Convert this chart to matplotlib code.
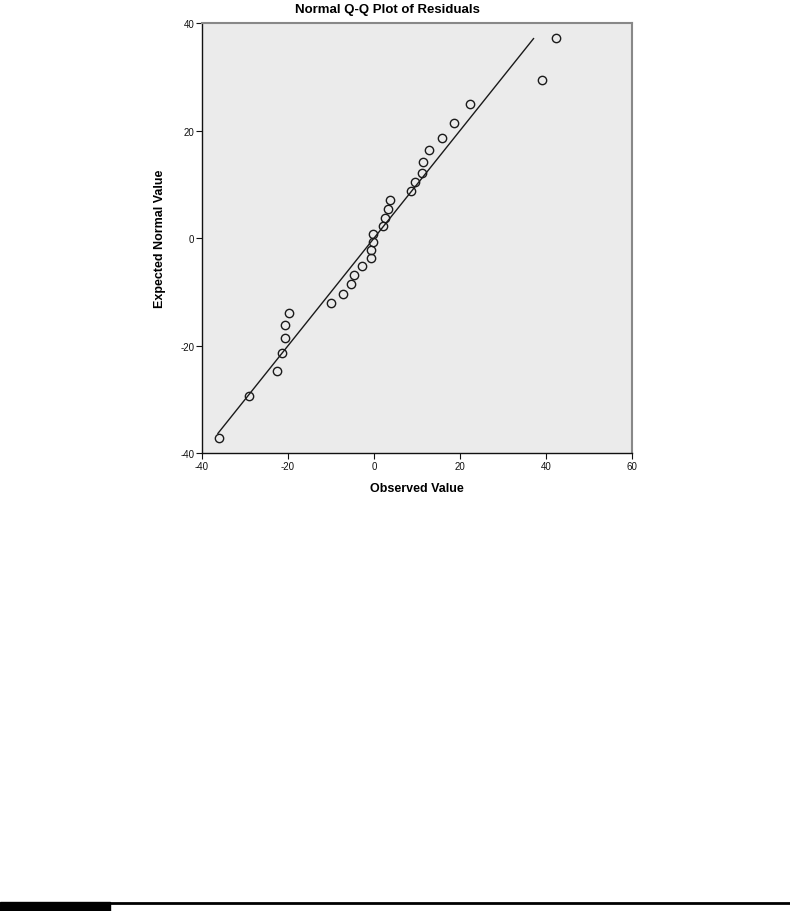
import matplotlib
matplotlib.use("Agg")
import matplotlib.pyplot as plt
from matplotlib.patches import Rectangle
from matplotlib.lines import Line2D

observed = [42.3, 39.1, 22.4, 18.6, 15.7, 12.7, 11.3, 11.2, 9.5, 8.5,
            3.7, 3.2, 2.5, 2.0, -0.2, -0.2, -0.7, -0.7, -2.9, -4.65,
            -5.3, -7.3, -10.1, -19.7, -20.6, -20.8, -21.5, -22.5, -29.1, -36.1]
expected = [37.3, 29.4, 24.9, 21.5, 18.7, 16.4, 14.2, 12.2, 10.4, 8.7,
            7.1, 5.4, 3.8, 2.3, 0.8, -0.8, -2.2, -3.7, -5.2, -6.8,
            -8.6, -10.3, -12.1, -14.0, -16.2, -18.6, -21.3, -24.7, -29.3, -37.2]
# концы опорной прямой y = x
line_x = [-36.3, 37.1]
x_ticks = [-40, -20, 0, 20, 40, 60]
y_ticks = [-40, -20, 0, 20, 40]

plt.rcParams['font.family'] = ['Liberation Sans', 'DejaVu Sans']
plt.rcParams['axes.unicode_minus'] = False

fig = plt.figure(figsize=(7.9, 9.12), dpi=100)
ax = fig.add_axes([202 / 790, 1 - 454.3 / 912, 430 / 790, 430.3 / 912])
ax.set_facecolor('#ebebeb')

ax.plot(line_x, line_x, color='#1a1a1a', lw=1.0, zorder=2)
ax.plot(observed, expected, 'o', mfc='none', mec='#1a1a1a', ms=6, mew=1.0, zorder=3)

ax.set_xlim(-40, 60)
ax.set_ylim(-40, 40)
ax.set_xticks(x_ticks)
ax.set_yticks(y_ticks)
ax.tick_params(labelsize=7, length=4, width=0.8, pad=1.5, colors='#111111')

for s in ['left', 'bottom']:
    ax.spines[s].set_color('#111111')
    ax.spines[s].set_linewidth(1.0)
for s in ['top', 'right']:
    ax.spines[s].set_color('#888888')
    ax.spines[s].set_linewidth(1.5)

ax.set_xlabel("Observed Value", fontsize=9, fontweight='bold', labelpad=8)
ax.set_ylabel("Expected Normal Value", fontsize=9, fontweight='bold', labelpad=10)

fig.text(387 / 790, 1 - 10 / 912, "Normal Q-Q Plot of Residuals",
         ha='center', va='center', fontsize=9.5, fontweight='bold')

# полоса внизу страницы
fig.add_artist(Line2D([110 / 790, 1], [1 - 904 / 912] * 2, color='black', lw=2,
                      transform=fig.transFigure))
fig.add_artist(Rectangle((0, 0), 110 / 790, 9 / 912, color='black',
                         transform=fig.transFigure))

fig.savefig("out.png", dpi=100)
